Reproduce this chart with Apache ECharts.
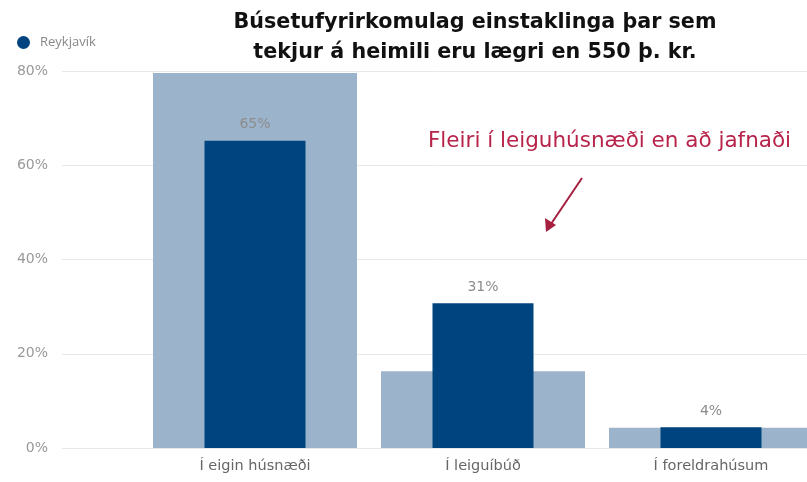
<!DOCTYPE html>
<html><head><meta charset="utf-8">
<script src="https://cdn.jsdelivr.net/npm/echarts@6/dist/echarts.min.js"></script>
<style>html,body{margin:0;padding:0;background:#fff}#c{width:807px;height:482px}</style>
</head><body><div id="c"></div>
<script>
const categories = ['Í eigin húsnæði', 'Í leiguíbúð', 'Í foreldrahúsum'];
const averageValues = [79.6, 16.3, 4.3];
const reykjavikValues = [65.2, 30.7, 4.4];
const yTicks = [0, 20, 40, 60, 80];
const titleLines = ['Búsetufyrirkomulag einstaklinga þar sem', 'tekjur á heimili eru lægri en 550 þ. kr.'];
const noteText = 'Fleiri í leiguhúsnæði en að jafnaði';

const chart = echarts.init(document.getElementById('c'));
chart.setOption({
  animation: false,
  title: {
    text: titleLines.join('\n'), left: 470, top: 3, textAlign: 'center',
    textStyle: { fontFamily: 'DejaVu Sans', fontWeight: 'bold', fontSize: 20.7, color: '#111', lineHeight: 30 }
  },
  legend: {
    data: ['Reykjavík'], left: 12, top: 31, icon: 'circle', itemWidth: 13, itemHeight: 13, itemGap: 6,
    textStyle: { fontFamily: 'Open Sans', fontSize: 13, color: '#888', padding: [0, 0, 0, 5] }
  },
  grid: [
    { left: 141, right: -18, top: 71, bottom: 34, outerBoundsMode: 'none' },
    { left: 62, right: 0, top: 71, bottom: 34, outerBoundsMode: 'none' }
  ],
  xAxis: [
    { type: 'category', gridIndex: 0, data: categories, axisLine: { show: false }, axisTick: { show: false },
      axisLabel: { margin: 11, fontFamily: 'DejaVu Sans', fontSize: 14.5, color: '#666' } },
    { type: 'category', gridIndex: 0, data: categories, show: false },
    { type: 'category', gridIndex: 1, data: [''], show: false }
  ],
  yAxis: [
    { type: 'value', gridIndex: 0, min: 0, max: 80, interval: 20, show: false, splitLine: { show: false } },
    { type: 'value', gridIndex: 1, min: 0, max: 80, interval: 20,
      axisLine: { show: false }, axisTick: { show: false },
      splitLine: { lineStyle: { color: '#e8e8e8', width: 1 } },
      axisLabel: { margin: 14, fontFamily: 'DejaVu Sans', fontSize: 14, color: '#999', formatter: v => v + '%' } }
  ],
  series: [
    { name: 'Meðaltal', type: 'bar', xAxisIndex: 1, yAxisIndex: 0, data: averageValues, barWidth: 204,
      itemStyle: { color: '#9bb4cc' }, z: 1 },
    { name: 'Reykjavík', type: 'bar', xAxisIndex: 0, yAxisIndex: 0, data: reykjavikValues, barWidth: 101,
      itemStyle: { color: '#00447f' }, z: 2,
      label: { show: true, position: 'top', distance: 9, fontFamily: 'DejaVu Sans', fontSize: 14, color: '#8c8c8c',
        formatter: p => Math.round(p.value) + '%' } }
  ],
  graphic: [
    { type: 'text', left: 428, top: 130, style: { text: noteText, fontFamily: 'DejaVu Sans', fontSize: 21.5, fill: '#b8234a' } },
    { type: 'line', shape: { x1: 582, y1: 178, x2: 551, y2: 224 }, style: { stroke: '#a51f3f', lineWidth: 2 } },
    { type: 'polygon', shape: { points: [[546, 232], [545, 218], [556, 225]] }, style: { fill: '#a51f3f' } }
  ]
});
</script></body></html>
